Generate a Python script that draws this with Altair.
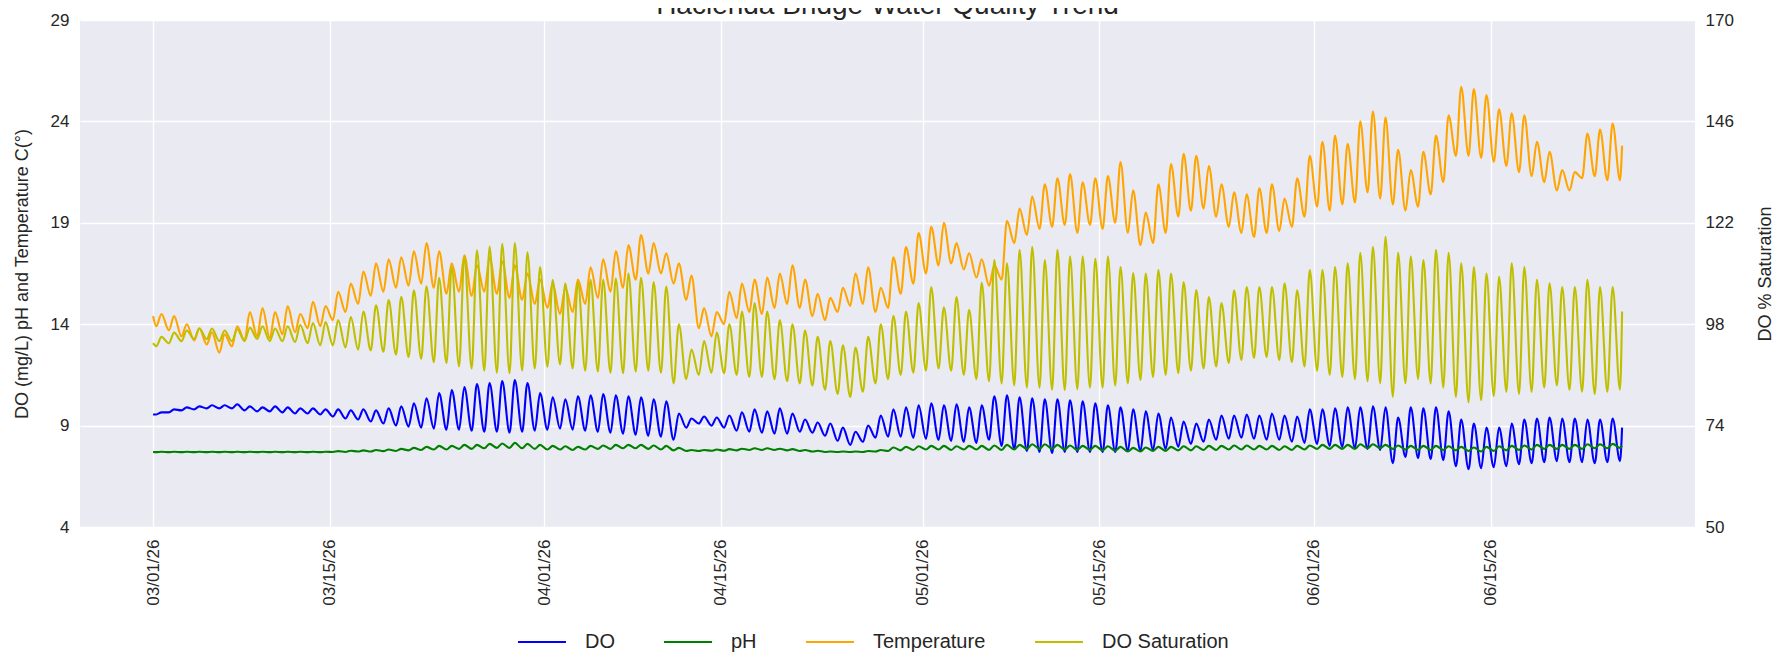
import altair as alt
import pandas as pd

FONT = "Liberation Sans, Arial, Helvetica, sans-serif"
TXT = "#262626"

TITLE = "Hacienda Bridge Water Quality Trend"
SERIES = ["DO", "pH", "Temperature", "DO Saturation"]
COLORS = ["#0000ff", "#008000", "#ffa500", "#bfbf00"]
LEFT_TICKS = [4, 9, 14, 19, 24, 29]
RIGHT_TICKS = [50, 74, 98, 122, 146, 170]
X_TICKS = [(3, 1), (3, 15), (4, 1), (4, 15), (5, 1), (5, 15), (6, 1), (6, 15)]

# daily lows (early morning) and highs (afternoon), from 03/01
TEMP_START, TEMP_END = 14.4, 22.8
TEMP_LO = [13.9, 13.7, 13.4, 13.2, 13.0, 12.6, 12.9,
           13.2, 13.4, 13.3, 13.5, 13.6, 13.8, 13.9,
           14.2, 14.6, 15.0, 15.4, 15.6, 15.8, 15.9,
           16.0, 15.8, 15.5, 15.6, 15.4, 15.6, 15.5,
           15.3, 15.2, 15.0, 14.8, 14.5, 14.6, 15.0,
           15.3, 15.6, 15.8, 16.2, 16.5, 16.5, 16.0,
           15.2, 13.8, 13.4, 14.0, 14.3, 14.6, 14.5,
           14.8, 15.0, 14.8, 14.4, 14.2, 14.6, 14.9,
           15.0, 14.6, 14.8, 15.5, 16.0, 16.5, 16.9,
           17.0, 16.7, 16.3, 15.9, 16.2, 18.0, 18.4,
           18.7, 18.8, 18.9, 18.5, 18.9, 18.7, 19.0,
           18.5, 17.9, 18.0, 18.5, 19.3, 19.6, 19.7,
           19.3, 18.8, 18.5, 18.3, 18.5, 18.6, 18.8,
           19.3, 19.8, 19.6, 19.9, 20.0, 20.5, 20.2,
           19.9, 19.6, 19.8, 20.4, 21.0, 22.3, 22.3,
           22.2, 22.0, 21.8, 21.5, 21.3, 21.0, 20.6,
           20.6, 21.2, 21.3, 21.1, 21.1]
TEMP_HI = [14.5, 14.4, 14.0, 13.8, 13.6, 13.5, 13.9,
           14.6, 14.8, 14.6, 14.9, 14.5, 15.1, 14.9,
           15.6, 16.0, 16.6, 17.0, 17.2, 17.3, 17.6,
           18.0, 17.6, 17.0, 17.4, 16.9, 17.3, 17.1,
           16.9, 16.5, 16.2, 16.0, 15.8, 16.2, 16.8,
           17.2, 17.6, 17.9, 18.4, 18.0, 17.5, 17.0,
           16.4, 14.8, 14.6, 15.6, 16.0, 16.2, 16.3,
           16.5, 16.9, 16.2, 15.5, 15.3, 15.8, 16.5,
           16.8, 15.8, 17.3, 17.8, 18.5, 18.8, 19.0,
           18.0, 17.5, 17.2, 16.9, 19.1, 19.7, 20.3,
           20.9, 21.2, 21.4, 21.0, 21.2, 21.3, 22.0,
           20.6, 19.5, 20.9, 21.9, 22.4, 22.3, 21.8,
           20.9, 20.5, 20.4, 20.7, 20.9, 20.2, 21.2,
           22.3, 23.0, 23.3, 22.9, 24.0, 24.5, 24.2,
           22.6, 21.6, 22.5, 23.3, 24.3, 25.7, 25.6,
           25.3, 24.6, 24.4, 24.3, 23.0, 22.5, 21.6,
           21.5, 23.4, 23.6, 23.9]

SAT_START, SAT_END = 93.5, 101.0
SAT_LO = [92.8, 93.5, 94.0, 94.5, 94.5, 94.0, 94.0,
          94.0, 94.5, 94.0, 94.0, 93.8, 93.5, 93.0,
          93.0, 92.5, 92.0, 91.8, 91.5, 90.8, 90.2,
          89.8, 89.0, 88.8, 88.0, 87.5, 87.0, 86.5,
          86.4, 87.0, 87.5, 87.9, 88.5, 87.5, 87.0,
          86.8, 86.5, 86.4, 86.8, 87.0, 86.5, 84.0,
          85.0, 86.0, 86.5, 86.4, 86.0, 85.5, 85.5,
          85.0, 84.5, 84.0, 83.5, 82.5, 81.5, 80.8,
          82.0, 84.0, 85.0, 86.0, 86.5, 87.0, 87.5,
          87.0, 86.0, 85.0, 84.5, 84.0, 83.5, 83.0,
          83.0, 82.5, 82.4, 82.6, 83.0, 83.0, 83.5,
          84.0, 84.8, 85.5, 86.0, 86.4, 87.0, 87.5,
          88.0, 88.8, 89.5, 90.0, 90.2, 89.5, 89.0,
          88.0, 87.0, 86.0, 85.5, 85.0, 84.5, 84.0,
          80.8, 84.0, 85.0, 84.0, 83.0, 80.8, 79.5,
          80.0, 81.0, 82.0, 81.5, 82.0, 83.0, 83.5,
          82.5, 82.0, 81.5, 82.0, 82.5]
SAT_HI = [95.0, 96.0, 96.5, 97.0, 97.0, 96.5, 96.8,
          97.2, 97.5, 97.0, 97.5, 97.8, 98.3, 98.5,
          99.0, 99.7, 101.0, 102.5, 103.7, 104.5, 106.0,
          107.0, 109.0, 111.5, 114.0, 115.5, 116.4, 117.0,
          117.2, 115.0, 111.5, 108.5, 107.7, 108.0, 108.5,
          108.5, 108.8, 110.0, 109.0, 108.0, 106.9, 98.0,
          92.0, 94.0, 96.0, 98.0, 101.0, 103.0, 101.0,
          99.0, 98.0, 96.5, 95.0, 94.0, 93.0, 92.5,
          95.0, 98.0, 100.0, 101.0, 103.0, 106.8, 102.0,
          104.4, 101.4, 107.8, 113.2, 112.4, 115.6, 116.3,
          113.2, 115.6, 114.0, 114.0, 113.5, 114.0, 111.5,
          110.1, 110.0, 110.8, 110.0, 108.0, 106.1, 104.4,
          103.0, 106.0, 106.8, 106.8, 106.8, 107.7, 106.0,
          110.8, 110.8, 111.5, 112.4, 114.9, 116.3, 118.7,
          114.9, 114.0, 113.2, 115.6, 114.9, 112.4, 111.5,
          110.0, 109.2, 112.4, 111.5, 108.5, 107.7, 106.8,
          106.8, 108.5, 106.8, 106.8]

DO_START, DO_END = 9.55, 8.9
DO_LO = [9.55, 9.65, 9.75, 9.8, 9.85, 9.85, 9.85,
         9.75, 9.7, 9.7, 9.65, 9.6, 9.6, 9.55,
         9.45, 9.35, 9.3, 9.2, 9.1, 9.0, 8.95,
         8.9, 8.85, 8.8, 8.8, 8.75, 8.7, 8.7,
         8.65, 8.7, 8.75, 8.8, 8.85, 8.8, 8.75,
         8.7, 8.65, 8.6, 8.55, 8.5, 8.45, 8.3,
         8.9, 9.1, 9.0, 8.9, 8.75, 8.7, 8.65,
         8.6, 8.6, 8.7, 8.65, 8.5, 8.25, 8.05,
         8.2, 8.4, 8.45, 8.45, 8.4, 8.35, 8.3,
         8.25, 8.2, 8.15, 8.3, 8.0, 7.85, 7.75,
         7.7, 7.65, 7.7, 7.7, 7.7, 7.7, 7.7,
         7.75, 7.75, 7.8, 7.85, 7.95, 8.1, 8.2,
         8.3, 8.35, 8.4, 8.35, 8.3, 8.3, 8.2,
         8.15, 8.1, 8.0, 7.95, 7.9, 7.85, 7.8,
         7.15, 7.45, 7.4, 7.35, 7.3, 7.0, 6.85,
         6.9, 6.95, 7.0, 7.1, 7.15, 7.2, 7.25,
         7.2, 7.2, 7.15, 7.2, 7.25]
DO_HI = [9.65, 9.8, 9.9, 9.95, 10.0, 10.0, 10.05,
         9.95, 9.9, 9.95, 9.9, 9.85, 9.85, 9.8,
         9.8, 9.75, 9.8, 9.75, 9.85, 9.95, 10.1,
         10.35, 10.6, 10.75, 10.9, 11.05, 11.1, 11.2,
         11.25, 11.1, 10.6, 10.4, 10.3, 10.45, 10.5,
         10.55, 10.5, 10.45, 10.4, 10.3, 10.2, 9.6,
         9.35, 9.45, 9.4, 9.5, 9.65, 9.8, 9.7,
         9.85, 9.6, 9.3, 9.15, 9.1, 8.9, 8.7,
         9.0, 9.5, 9.8, 9.9, 10.0, 10.1, 10.0,
         10.05, 9.9, 10.0, 10.45, 10.5, 10.4, 10.35,
         10.3, 10.3, 10.25, 10.2, 10.1, 10.0, 9.9,
         9.8, 9.7, 9.6, 9.4, 9.2, 9.1, 9.3,
         9.5, 9.5, 9.55, 9.5, 9.6, 9.5, 9.45,
         9.8, 9.8, 9.85, 9.9, 9.9, 9.95, 9.9,
         9.4, 9.9, 9.85, 9.9, 9.7, 9.3, 9.1,
         8.9, 8.9, 9.1, 9.3, 9.35, 9.4, 9.35,
         9.35, 9.3, 9.3, 9.35]

PH_START, PH_END = 7.7, 8.0
PH_LO = [7.69, 7.69, 7.69, 7.69, 7.69, 7.69, 7.69,
         7.69, 7.69, 7.69, 7.69, 7.69, 7.69, 7.69,
         7.70, 7.70, 7.72, 7.72, 7.74, 7.75, 7.78,
         7.80, 7.82, 7.82, 7.85, 7.85, 7.88, 7.90,
         7.90, 7.88, 7.85, 7.82, 7.82, 7.80, 7.82,
         7.85, 7.85, 7.88, 7.88, 7.85, 7.82, 7.78,
         7.75, 7.75, 7.76, 7.76, 7.78, 7.80, 7.80,
         7.80, 7.78, 7.75, 7.72, 7.70, 7.70, 7.70,
         7.70, 7.72, 7.75, 7.78, 7.80, 7.82, 7.82,
         7.80, 7.82, 7.82, 7.80, 7.80, 7.82, 7.85,
         7.85, 7.85, 7.82, 7.80, 7.80, 7.78, 7.76,
         7.72, 7.72, 7.75, 7.75, 7.78, 7.78, 7.80,
         7.80, 7.82, 7.82, 7.82, 7.82, 7.80, 7.80,
         7.82, 7.85, 7.85, 7.85, 7.85, 7.88, 7.88,
         7.85, 7.82, 7.80, 7.80, 7.80, 7.78, 7.75,
         7.72, 7.75, 7.78, 7.80, 7.82, 7.85, 7.85,
         7.85, 7.85, 7.88, 7.88, 7.90]
PH_HI = [7.71, 7.71, 7.71, 7.71, 7.71, 7.71, 7.71,
         7.71, 7.71, 7.71, 7.71, 7.71, 7.71, 7.71,
         7.74, 7.76, 7.78, 7.80, 7.82, 7.85, 7.90,
         7.95, 8.00, 8.00, 8.05, 8.05, 8.10, 8.12,
         8.15, 8.10, 8.05, 8.00, 7.98, 7.95, 8.00,
         8.02, 8.05, 8.05, 8.05, 8.02, 8.00, 7.90,
         7.80, 7.80, 7.82, 7.84, 7.86, 7.88, 7.88,
         7.86, 7.84, 7.80, 7.76, 7.72, 7.72, 7.72,
         7.75, 7.80, 7.92, 7.95, 7.98, 8.00, 8.00,
         7.98, 8.00, 8.00, 8.02, 8.05, 8.05, 8.08,
         8.08, 8.05, 8.02, 8.00, 8.00, 7.98, 7.95,
         7.90, 7.92, 7.95, 7.95, 7.98, 7.98, 8.00,
         8.00, 8.02, 8.02, 8.00, 8.00, 7.98, 8.00,
         8.02, 8.05, 8.05, 8.05, 8.08, 8.08, 8.05,
         8.02, 8.00, 8.00, 8.00, 7.98, 7.95, 7.92,
         7.95, 7.98, 8.00, 8.02, 8.05, 8.05, 8.05,
         8.05, 8.08, 8.08, 8.10]

BASE = pd.Timestamp("2026-03-01")


def stamp(ts):
    return ts.strftime("%Y-%m-%dT%H:%M:%S")


def rows(name, start, lo, hi, end):
    if len(lo) != len(hi) + 1:
        raise ValueError(f"{name}: {len(lo)} lows vs {len(hi)} highs")
    out = [{"t": stamp(BASE), "v": start, "series": name}]
    for d, h in enumerate(hi):
        out.append({"t": stamp(BASE + pd.Timedelta(days=d, hours=6)), "v": lo[d], "series": name})
        out.append({"t": stamp(BASE + pd.Timedelta(days=d, hours=16)), "v": h, "series": name})
    n = len(hi)
    out.append({"t": stamp(BASE + pd.Timedelta(days=n, hours=6)), "v": lo[n], "series": name})
    out.append({"t": stamp(BASE + pd.Timedelta(days=n, hours=10)), "v": end, "series": name})
    return out


left_df = pd.DataFrame(
    rows("DO", DO_START, DO_LO, DO_HI, DO_END)
    + rows("pH", PH_START, PH_LO, PH_HI, PH_END)
    + rows("Temperature", TEMP_START, TEMP_LO, TEMP_HI, TEMP_END)
)
right_df = pd.DataFrame(rows("DO Saturation", SAT_START, SAT_LO, SAT_HI, SAT_END))

W, H = 1615, 507
LW = 2.1

x_enc = alt.X(
    "t:T",
    scale=alt.Scale(domain=[alt.DateTime(year=2026, month=2, date=23, hours=5),
                            alt.DateTime(year=2026, month=7, date=1, hours=4, minutes=40)]),
    axis=alt.Axis(values=[alt.DateTime(year=2026, month=m, date=d) for m, d in X_TICKS],
                  format="%m/%d/%y", labelAngle=270, labelPadding=12, labelFontSize=17,
                  grid=True, gridColor="white", gridWidth=1.3, domain=False, ticks=False,
                  labelFlush=False, labelOverlap=False, title=None),
)

color_enc = alt.Color(
    "series:N",
    scale=alt.Scale(domain=SERIES, range=COLORS),
    legend=alt.Legend(title=None, orient="none", direction="horizontal",
                      legendX=437, legendY=597, symbolType="stroke", symbolSize=2304,
                      symbolStrokeWidth=2, labelFontSize=20, labelOffset=18,
                      columnPadding=45, padding=0, labelColor=TXT, labelFont=FONT),
)

left = alt.Chart(left_df).mark_line(strokeWidth=LW, interpolate="monotone").encode(
    x=x_enc,
    y=alt.Y("v:Q", scale=alt.Scale(domain=[4, 29], nice=False, zero=False),
            axis=alt.Axis(values=LEFT_TICKS, grid=True, gridColor="white", gridWidth=1.3,
                          domain=False, ticks=False, labelPadding=11, labelFontSize=17,
                          labelFlush=False, labelOverlap=False,
                          title="DO (mg/L) pH and Temperature C(°)", titleFontSize=18,
                          titleAngle=270, titleX=-58, titleY=H / 2, titleAlign="center",
                          titleBaseline="middle")),
    color=color_enc,
)

right = alt.Chart(right_df).mark_line(strokeWidth=LW, interpolate="monotone").encode(
    x=x_enc,
    y=alt.Y("v:Q", scale=alt.Scale(domain=[50, 170], nice=False, zero=False),
            axis=alt.Axis(orient="right", values=RIGHT_TICKS, grid=False, domain=False,
                          ticks=False, labelPadding=10, labelFontSize=17, labelFlush=False,
                          labelOverlap=False, title="DO % Saturation", titleFontSize=18,
                          titleAngle=270, titleX=70, titleY=H / 2, titleAlign="center",
                          titleBaseline="middle")),
    color=color_enc,
)

title = alt.Chart(alt.Data(values=[{"label": TITLE}])).mark_text(
    font=FONT, fontSize=28, color=TXT, align="center", baseline="alphabetic"
).encode(x=alt.value(W / 2), y=alt.value(-6), text="label:N")

chart = (
    alt.layer(left, right, title)
    .resolve_scale(y="independent")
    .properties(
        width=W, height=H,
        autosize=alt.AutoSizeParams(type="none"),
        padding={"left": 72, "top": 12, "right": 87, "bottom": 125},
        background="white",
    )
    .configure_view(stroke=None, fill="#eaeaf2")
    .configure_axis(labelFont=FONT, titleFont=FONT, labelColor=TXT, titleColor=TXT,
                    titleFontWeight="normal")
)

chart.save("out.html", embed_options={"renderer": "svg", "actions": False})
